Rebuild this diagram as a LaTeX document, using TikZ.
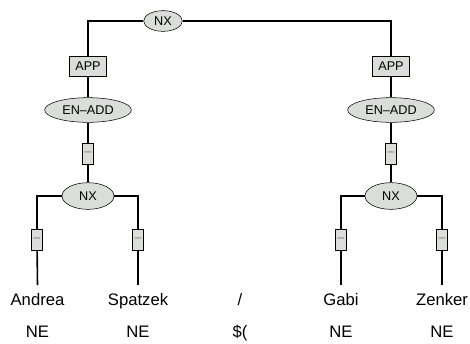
\documentclass[tikz,border=0pt]{standalone}
\usepackage{fontspec}
\setmainfont{Liberation Sans}
\usetikzlibrary{shapes.geometric}
\definecolor{csomo}{RGB}{218,221,218}
\tikzset{
  kat/.style={ellipse,draw,fill=csomo,inner sep=0pt,font=\fontsize{9.5}{10}\selectfont},
  fun/.style={rectangle,draw,fill=csomo,inner sep=0pt,minimum width=27.75pt,minimum height=15pt,font=\fontsize{9.5}{10}\selectfont},
  jel/.style={rectangle,draw,fill=csomo,inner sep=0pt,minimum width=8.25pt,minimum height=15.5pt,font=\fontsize{9}{10}\selectfont,text=black!55},
  szo/.style={anchor=base,inner ysep=5.5pt,inner xsep=0pt,text height=9.2pt,text depth=2.6pt,font=\fontsize{12.5}{14}\selectfont},
  cimke/.style={anchor=base,font=\fontsize{12.5}{14}\selectfont},
  ag/.style={line width=1.2pt},
}
\begin{document}
\begin{tikzpicture}[x=0.75pt,y=-0.75pt]
  \useasboundingbox (0,0) rectangle (470,343);
  % gyoker
  \node[kat,minimum width=29pt,minimum height=15.5pt] (nx) at (163,21) {NX};
  % bal ag
  \node[fun] (appb) at (88,66) {APP};
  \node[kat,minimum width=65pt,minimum height=18.5pt] (enb) at (88,110) {EN--ADD};
  \node[jel] (jb) at (88,153.5) {--};
  \node[kat,minimum width=39pt,minimum height=20pt] (nxb) at (88,196) {NX};
  \node[jel] (j1) at (37,240) {--};
  \node[jel] (j2) at (138,240) {--};
  % jobb ag
  \node[fun] (appj) at (391,66) {APP};
  \node[kat,minimum width=65pt,minimum height=18.5pt] (enj) at (391,110) {EN--ADD};
  \node[jel] (jj) at (391,153.5) {--};
  \node[kat,minimum width=39pt,minimum height=20pt] (nxj) at (391,196) {NX};
  \node[jel] (j3) at (341,240) {--};
  \node[jel] (j4) at (442,240) {--};
  % szavak
  \node[szo] (w1) at (37.5,305) {Andrea};
  \node[szo] (w2) at (138,305) {Spatzek};
  \node[szo] (w3) at (240,305) {/};
  \node[szo] (w4) at (341,305) {Gabi};
  \node[szo] (w5) at (442,305) {Zenker};
  \node[cimke] (t1) at (37.5,337) {NE};
  \node[cimke] (t2) at (138,337) {NE};
  \node[cimke] (t3) at (240,337) {\$(};
  \node[cimke] (t4) at (341,337) {NE};
  \node[cimke] (t5) at (442,337) {NE};
  % elek
  \draw[ag] (appb.north) |- (nx.west);
  \draw[ag] (nx.east) -| (appj.north);
  \draw[ag] (appb) -- (enb) -- (jb) -- (nxb);
  \draw[ag] (appj) -- (enj) -- (jj) -- (nxj);
  \draw[ag] (nxb.west) -| (j1.north);
  \draw[ag] (nxb.east) -| (j2.north);
  \draw[ag] (nxj.west) -| (j3.north);
  \draw[ag] (nxj.east) -| (j4.north);
  \draw[ag] (j1) -- (w1.north);
  \draw[ag] (j2) -- (w2.north);
  \draw[ag] (j3) -- (w4.north);
  \draw[ag] (j4) -- (w5.north);
\end{tikzpicture}
\end{document}
